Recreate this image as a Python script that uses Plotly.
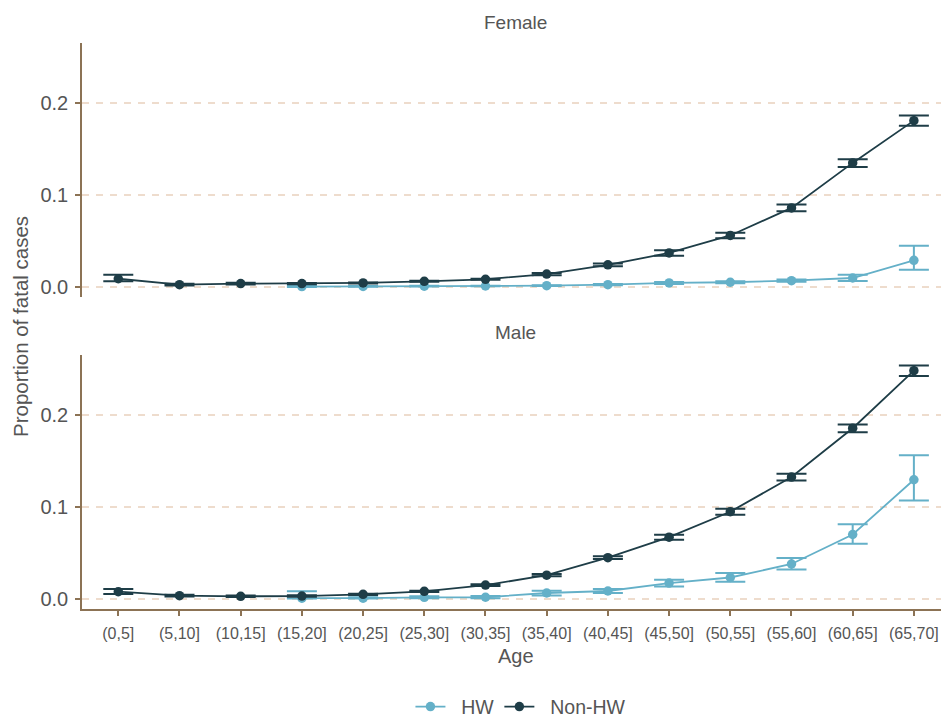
import plotly.graph_objects as go

ages = ["(0,5]", "(5,10]", "(10,15]", "(15,20]", "(20,25]", "(25,30]", "(30,35]",
        "(35,40]", "(40,45]", "(45,50]", "(50,55]", "(55,60]", "(60,65]", "(65,70]"]

female_nonhw = [0.0089, 0.0025, 0.0036, 0.0036, 0.0043, 0.0061, 0.0083, 0.0140, 0.0240, 0.0370, 0.0560, 0.0860, 0.1350, 0.1810]
female_nonhw_lo = [0.0061, 0.0015, 0.0027, 0.0030, 0.0037, 0.0055, 0.0077, 0.0128, 0.0225, 0.0340, 0.0530, 0.0824, 0.1305, 0.1755]
female_nonhw_hi = [0.0132, 0.0035, 0.0045, 0.0042, 0.0049, 0.0067, 0.0089, 0.0152, 0.0255, 0.0398, 0.0590, 0.0896, 0.1390, 0.1865]

female_hw = [None, None, None, 0.0004, 0.0005, 0.0008, 0.0010, 0.0014, 0.0025, 0.0043, 0.0051, 0.0068, 0.0097, 0.0290]
female_hw_lo = [None, None, None, 0.0000, 0.0002, 0.0004, 0.0006, 0.0009, 0.0018, 0.0033, 0.0040, 0.0055, 0.0065, 0.0186]
female_hw_hi = [None, None, None, 0.0012, 0.0009, 0.0012, 0.0014, 0.0019, 0.0032, 0.0053, 0.0062, 0.0081, 0.0132, 0.0448]

male_nonhw = [0.0075, 0.0032, 0.0025, 0.0028, 0.0047, 0.0079, 0.0147, 0.0255, 0.0446, 0.0669, 0.0946, 0.1323, 0.1855, 0.2481]
male_nonhw_lo = [0.0050, 0.0022, 0.0017, 0.0020, 0.0040, 0.0072, 0.0138, 0.0243, 0.0430, 0.0640, 0.0913, 0.1287, 0.1812, 0.2424]
male_nonhw_hi = [0.0104, 0.0042, 0.0033, 0.0036, 0.0054, 0.0086, 0.0156, 0.0267, 0.0462, 0.0694, 0.0978, 0.1359, 0.1895, 0.2538]

male_hw = [None, None, None, 0.0005, 0.0005, 0.0014, 0.0015, 0.0061, 0.0083, 0.0169, 0.0230, 0.0377, 0.0698, 0.1294]
male_hw_lo = [None, None, None, 0.0000, 0.0000, 0.0005, 0.0005, 0.0035, 0.0060, 0.0133, 0.0183, 0.0316, 0.0597, 0.1068]
male_hw_hi = [None, None, None, 0.0079, 0.0015, 0.0025, 0.0028, 0.0087, 0.0106, 0.0205, 0.0280, 0.0442, 0.0809, 0.1561]

y_ticks = [0.0, 0.1, 0.2]
y_tick_labels = ["0.0", "0.1", "0.2"]

HW_COL = "#64b0c8"
NON_COL = "#1e3d47"
AXIS_COL = "#8c7355"
GRID_COL = "#eedccd"
TEXT_COL = "#555555"
FONT = "Liberation Sans, Arial, sans-serif"
NBSP = "\u00a0"


def err(vals, lo, hi):
    plus = [None if v is None else h - v for v, h in zip(vals, hi)]
    minus = [None if v is None else v - l for v, l in zip(vals, lo)]
    return plus, minus


fig = go.Figure()


def add(vals, lo, hi, name, color, xa, ya, show):
    plus, minus = err(vals, lo, hi)
    fig.add_trace(go.Scatter(
        x=ages, y=vals, name=NBSP * 2 + name, mode="lines+markers",
        line=dict(color=color, width=1.8),
        marker=dict(color=color, size=9.5),
        error_y=dict(type="data", array=plus, arrayminus=minus, symmetric=False,
                     color=color, thickness=2, width=15),
        xaxis=xa, yaxis=ya, legendgroup=name, showlegend=show,
        connectgaps=False,
    ))


add(female_hw, female_hw_lo, female_hw_hi, "HW", HW_COL, "x", "y", True)
add(female_nonhw, female_nonhw_lo, female_nonhw_hi, "Non-HW", NON_COL, "x", "y", True)
add(male_hw, male_hw_lo, male_hw_hi, "HW", HW_COL, "x2", "y2", False)
add(male_nonhw, male_nonhw_lo, male_nonhw_hi, "Non-HW", NON_COL, "x2", "y2", False)

yrange = [-0.0113, 0.2655]
xrange = [-0.593, 13.443]

common_y = dict(
    range=yrange, tickvals=y_ticks, ticktext=y_tick_labels,
    showline=True, linecolor=AXIS_COL, linewidth=1.6,
    ticks="outside", ticklen=5, tickwidth=1.6, tickcolor=AXIS_COL,
    showgrid=True, gridcolor=GRID_COL, gridwidth=1.8, griddash="7px,7px",
    zeroline=False, tickfont=dict(family=FONT, size=20, color=TEXT_COL),
    ticklabelstandoff=3, fixedrange=True,
)

fig.update_layout(
    width=941, height=727,
    margin=dict(l=82, r=0, t=43, b=112),
    paper_bgcolor="white", plot_bgcolor="white",
    font=dict(family=FONT, color=TEXT_COL),
    xaxis=dict(domain=[0, 1], anchor="y", range=xrange, type="category",
               categoryorder="array", categoryarray=ages,
               showticklabels=False, showline=False, ticks="", showgrid=False,
               zeroline=False, fixedrange=True),
    yaxis=dict(domain=[0.5507, 1.0], anchor="x", **common_y),
    xaxis2=dict(domain=[0, 1], anchor="y2", range=xrange, type="category",
                categoryorder="array", categoryarray=ages,
                showline=True, linecolor=AXIS_COL, linewidth=1.6,
                ticks="outside", ticklen=5, tickwidth=1.6, tickcolor=AXIS_COL,
                showgrid=False, zeroline=False, ticklabelstandoff=4,
                tickfont=dict(family=FONT, size=16, color=TEXT_COL),
                fixedrange=True),
    yaxis2=dict(domain=[0.0, 0.4493], anchor="x2", **common_y),
    legend=dict(orientation="h", x=0.511, xanchor="center", y=-0.173, yanchor="middle",
                font=dict(family=FONT, size=19.5, color=TEXT_COL),
                bgcolor="rgba(0,0,0,0)", itemwidth=30, tracegroupgap=0),
    showlegend=True,
)

annotations = [
    dict(text="Female", x=0.505, y=1.0367, xref="paper", yref="paper",
         xanchor="center", yanchor="middle", showarrow=False,
         font=dict(family=FONT, size=19, color=TEXT_COL)),
    dict(text="Male", x=0.505, y=0.4878, xref="paper", yref="paper",
         xanchor="center", yanchor="middle", showarrow=False,
         font=dict(family=FONT, size=19, color=TEXT_COL)),
    dict(text="Age", x=0.505, y=-0.0839, xref="paper", yref="paper",
         xanchor="center", yanchor="middle", showarrow=False,
         font=dict(family=FONT, size=20, color=TEXT_COL)),
    dict(text="Proportion of fatal cases", x=-0.0722, y=0.5, xref="paper", yref="paper",
         xanchor="center", yanchor="middle", showarrow=False, textangle=-90,
         font=dict(family=FONT, size=20.5, color=TEXT_COL)),
]
fig.update_layout(annotations=annotations)

fig.write_html(
    "out.html",
    config={"displayModeBar": False},
    post_script="document.body.style.margin='0';document.body.style.overflow='hidden';",
)
